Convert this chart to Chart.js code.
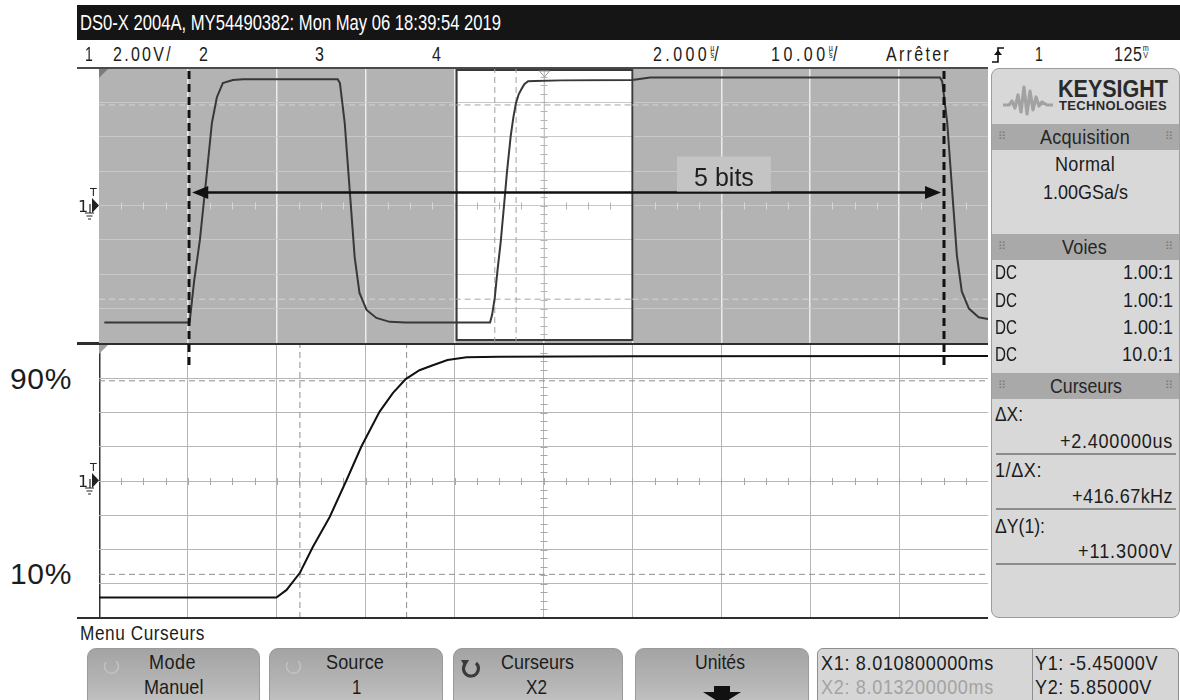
<!DOCTYPE html>
<html><head><meta charset="utf-8">
<script src="https://cdn.jsdelivr.net/npm/chart.js@4.4.1/dist/chart.umd.min.js"></script>
<style>
html,body{margin:0;padding:0;background:#fff;width:1180px;height:700px;overflow:hidden;}
body{position:relative;font-family:"Liberation Sans",Arial,sans-serif;color:#1c1c1c;}
.a{position:absolute;white-space:nowrap;}
.t{position:absolute;white-space:nowrap;transform-origin:0 50%;z-index:6;color:#1c1c1c;}
.stk{display:inline-block;font-size:9px;line-height:7px;vertical-align:top;margin-top:1px;text-align:center;letter-spacing:0 !important;}
.stk span{display:block;}
.pan{position:absolute;left:991px;top:68px;width:187px;height:548px;background:#d8d8d8;border:1px solid #9c9c9c;border-radius:8px;overflow:hidden;}
.bar{position:absolute;left:0;width:187px;height:26px;background:#a9a9a9;}
.grip{position:absolute;top:7px;font-family:"DejaVu Sans";font-size:11px;line-height:11px;color:#7a7a7a;}
.sep{position:absolute;left:4px;width:180px;height:2px;background:#8c8c8c;}
.btn{position:absolute;top:648px;height:60px;border-radius:9px;border:1px solid #9a9a9a;background:linear-gradient(#a4a4a4,#b4b4b4 55%,#c6c6c6);}
</style></head>
<body>
<!-- title bar -->
<div class="a" style="left:77px;top:5px;width:1103px;height:35px;background:#151515;"></div>
<svg class="a" style="left:991px;top:45px;z-index:6" width="16" height="20"><path d="M1 17 H7 V3 H13" fill="none" stroke="#111" stroke-width="1.6"/><path d="M3 10 L7 5 L11 10 Z" fill="#111"/></svg>

<!-- channel markers -->
<svg class="a" style="left:76px;top:180px;z-index:5" width="24" height="44">
 <text x="14" y="16" font-family="DejaVu Sans" font-size="11" fill="#222">T</text>
 <text x="2" y="32" font-family="DejaVu Sans" font-size="16" fill="#222">1</text>
 <path d="M16 18 L23 25.5 L16 33 Z" fill="#222"/>
 <path d="M14 24 V33 M9 33 H18 M10.5 36 H16.5 M12 39 H15" stroke="#222" stroke-width="1.2" fill="none"/>
</svg>
<svg class="a" style="left:76px;top:455px;z-index:5" width="24" height="44">
 <text x="14" y="16" font-family="DejaVu Sans" font-size="11" fill="#222">T</text>
 <text x="2" y="32" font-family="DejaVu Sans" font-size="16" fill="#222">1</text>
 <path d="M16 18 L23 25.5 L16 33 Z" fill="#222"/>
 <path d="M14 24 V33 M9 33 H18 M10.5 36 H16.5 M12 39 H15" stroke="#222" stroke-width="1.2" fill="none"/>
</svg>

<!-- charts -->
<canvas id="cBottom" class="a" style="left:99px;top:344px;z-index:1" width="889" height="274"></canvas>
<canvas id="cTop" class="a" style="left:99px;top:68px;z-index:2" width="889" height="302"></canvas>

<!-- frame lines -->
<div class="a" style="left:77px;top:67px;width:911px;height:2px;background:#4a4a4a;z-index:3"></div>
<div class="a" style="left:77px;top:342px;width:911px;height:3px;background:#2e2e2e;z-index:1"></div>
<div class="a" style="left:77px;top:617px;width:911px;height:2px;background:#2e2e2e;z-index:3"></div>

<!-- right panel -->
<div class="pan">
  <svg style="position:absolute;left:9px;top:8px" width="54" height="40"><path d="M2 28 L8 28 L11 24 L14 31 L17 18 L20 35 L23 10 L26 37 L29 14 L32 33 L35 20 L38 29 L41 25 L46 28 L52 28" fill="none" stroke="#a2a2a2" stroke-width="3.2" stroke-linejoin="round"/></svg>
  <div class="bar" style="top:55px;"><span class="grip" style="left:6px;">⠿</span><span class="grip" style="right:6px;">⠿</span></div>
  <div class="bar" style="top:165px;"><span class="grip" style="left:6px;">⠿</span><span class="grip" style="right:6px;">⠿</span></div>
  <div class="bar" style="top:304px;"><span class="grip" style="left:6px;">⠿</span><span class="grip" style="right:6px;">⠿</span></div>
  <div class="sep" style="top:384px;"></div>
  <div class="sep" style="top:439px;"></div>
  <div class="sep" style="top:494px;"></div>
</div>

<!-- bottom menu -->
<div class="btn" style="left:87px;width:171px;"><svg style="position:absolute;left:12px;top:6px" width="22" height="22"><path d="M16 6 A7 7 0 1 1 6 7" fill="none" stroke="#c2c2c2" stroke-width="1.5"/></svg></div>
<div class="btn" style="left:269px;width:172px;"><svg style="position:absolute;left:12px;top:6px" width="22" height="22"><path d="M16 6 A7 7 0 1 1 6 7" fill="none" stroke="#c2c2c2" stroke-width="1.5"/></svg></div>
<div class="btn" style="left:453px;width:168px;"><svg style="position:absolute;left:5px;top:7px" width="24" height="24"><path d="M17 7 A7.5 7.5 0 1 1 6 8" fill="none" stroke="#3a3a3a" stroke-width="3.2"/><path d="M2 4 L10 4 L6 11 Z" fill="#3a3a3a"/></svg></div>
<div class="btn" style="left:635px;width:172px;"><svg style="position:absolute;left:65px;top:36px" width="42" height="20"><path d="M13 1 H29 V7 H40 L21 19 L2 7 H13 Z" fill="#111"/></svg></div>
<div class="a" style="left:817px;top:648px;width:360px;height:60px;background:#d6d6d6;border:1px solid #8e8e8e;border-radius:6px;"></div>
<div class="a" style="left:1032px;top:648px;width:1px;height:54px;background:#8e8e8e;"></div>

<script>
// ---- data ----
// channel 1 waveform: time in µs from left edge of main window, voltage in V
const timeUs = [0.6, 10.1, 10.2, 10.7, 11.35, 12.13, 12.7, 13.26, 13.93, 15.06, 16.2, 26.85, 27.1, 27.64, 28.2, 28.76, 29.3, 30.1, 31.2, 32.7, 34.5,
  43.99, 44.22, 44.52, 44.81, 45.19, 45.57, 45.90, 46.31, 46.61, 46.90, 47.21, 47.51, 47.84, 48.27, 49.01, 52.0, 60.0, 62.0,
  94.6, 94.85, 95.4, 95.95, 96.5, 97.05, 97.85, 98.95, 100.0];
const voltsCh1 = [-6.8, -6.8, -6.77, -4.4, -2.0, 1.89, 4.8, 6.3, 7.12, 7.3, 7.35, 7.35, 7.12, 4.8, 0.9, -3.0, -5.09, -6.08, -6.54, -6.77, -6.8,
  -6.8, -6.36, -5.36, -3.85, -2.10, 0.06, 2.0, 4.04, 5.13, 5.95, 6.47, 6.76, 7.06, 7.23, 7.25, 7.28, 7.3, 7.45,
  7.45, 7.22, 4.9, 1.0, -2.9, -5.0, -6.0, -6.5, -6.6];
const cursorTimesUs = [44.52, 46.92];      // X1, X2
const cursorVolts = [-5.45, 5.85];         // Y1, Y2
const mainRangeUs = [0, 100];              // 10 µs/div
const zoomRangeUs = [40, 60];              // 2 µs/div
const voltRange = [-8, 8];                 // 2 V/div
const markerTimesUs = [10.15, 95.05];      // "5 bits" annotation ends
const arrowLevelV = 0.78;
const labelText = '5 bits';
const labelTimeUs = 70.3;

// ---- text (screen read-outs) ----
const US = '<span class="stk"><span>µ</span><span>s</span></span>';
const MV = '<span class="stk"><span>m</span><span>V</span></span>';
// x: left edge, cy: vertical centre of capitals, fs: font size, w: target width
function T(html, x, cy, fs, w, o = {}) {
  const d = document.createElement('div');
  d.className = 't'; d.innerHTML = html;
  d.style.left = x + 'px'; d.style.top = (cy - 0.49 * fs) + 'px';
  d.style.fontSize = fs + 'px'; d.style.lineHeight = fs + 'px';
  if (o.color) d.style.color = o.color;
  if (o.weight) d.style.fontWeight = o.weight;
  document.body.appendChild(d);
  const cond = o.cond || 0.86;
  const nw = d.getBoundingClientRect().width;
  if (!w) { d.style.transform = 'scaleX(' + cond + ')'; return; }
  if (nw * cond >= w) {
    d.style.transform = 'scaleX(' + (w / nw).toFixed(4) + ')';
  } else {
    const n = d.textContent.length;
    d.style.letterSpacing = ((w / cond - nw) / n).toFixed(3) + 'px';
    d.style.transform = 'scaleX(' + cond + ')';
  }
}
T('DS0-X 2004A, MY54490382: Mon May 06 18:39:54 2019', 80, 23, 22, 421, {color: '#fff'});
T('1', 85, 53.5, 20, 0, {cond: 0.7});
T('2.00V/', 113, 53.5, 20, 60, {cond: 0.8});
T('2', 199, 53.5, 20, 0, {cond: 0.8});
T('3', 315, 53.5, 20, 0, {cond: 0.8});
T('4', 432, 53.5, 20, 0, {cond: 0.8});
T('2.000' + US + '/', 653, 53.5, 20, 76, {cond: 0.8});
T('10.00' + US + '/', 771, 53.5, 20, 77, {cond: 0.8});
T('Arrêter', 886, 53.5, 20, 65, {cond: 0.8});
T('1', 1035, 53.5, 20, 0, {cond: 0.7});
T('125' + MV, 1114, 53.5, 20, 36, {cond: 0.8});
T('90%', 10, 379, 30, 62, {cond: 1});
T('10%', 10, 574, 30, 62, {cond: 1});
// right panel
T('KEYSIGHT', 1058, 89, 24, 110, {weight: 'bold', color: '#2a2a2a', cond: 1});
T('TECHNOLOGIES', 1059, 105.5, 13, 108, {weight: 'bold', color: '#2a2a2a', cond: 1});
T('Acquisition', 1040, 136, 21, 90, {color: '#262626'});
T('Normal', 1055, 163.5, 21, 60);
T('1.00GSa/s', 1043, 191.5, 21, 85);
T('Voies', 1062, 246.5, 21, 45, {color: '#262626'});
[271, 299, 326.5, 353].forEach((cy, i) => { T('DC', 995, cy, 21, 22); T(i === 3 ? '10.0:1' : '1.00:1', i === 3 ? 1122 : 1123, cy, 21, i === 3 ? 51 : 50); });
T('Curseurs', 1050, 385, 21, 72, {color: '#262626'});
T('ΔX:', 995, 413, 21, 28);
T('+2.400000us', 1060, 440, 21, 113);
T('1/ΔX:', 995, 469, 21, 47);
T('+416.67kHz', 1072, 495, 21, 101);
T('ΔY(1):', 995, 525, 21, 50);
T('+11.3000V', 1078, 550, 21, 95);
// bottom menu
T('Menu Curseurs', 80, 632.5, 20, 125);
T('Mode', 149, 661, 21, 47);
T('Manuel', 143.5, 686.5, 21, 59.5);
T('Source', 326, 661, 21, 58);
T('1', 352, 686.5, 21, 0, {cond: 0.8});
T('Curseurs', 501, 661, 21, 73);
T('X2', 526, 686.5, 21, 21);
T('Unités', 695, 661, 21, 50);
T('X1: 8.010800000ms', 821, 662, 21, 173);
T('X2: 8.013200000ms', 821, 686, 21, 173, {color: '#a3a3a3'});
T('Y1: -5.45000V', 1035, 662, 21, 123);
T('Y2: 5.85000V', 1035, 686, 21, 117);

// ---- charts ----
const wave = timeUs.map((t, i) => ({x: t, y: voltsCh1[i]}));
const hLine = (v, xs) => xs.map(t => ({x: t, y: v}));
const vLine = t => [{x: t, y: voltRange[0]}, {x: t, y: voltRange[1]}];

function minorTicks(chart, xStep, yStep, colorFn) {
  const {ctx, scales: {x, y}} = chart;
  const y0 = y.getPixelForValue(0), xc = x.getPixelForValue((x.min + x.max) / 2);
  ctx.save(); ctx.lineWidth = 1;
  for (let v = x.min + xStep; v < x.max; v += xStep) {
    const px = Math.round(x.getPixelForValue(v)) + 0.5;
    ctx.strokeStyle = colorFn(px); ctx.beginPath(); ctx.moveTo(px, y0 - 3); ctx.lineTo(px, y0 + 4); ctx.stroke();
  }
  for (let v = y.min + yStep; v < y.max; v += yStep) {
    const py = Math.round(y.getPixelForValue(v)) + 0.5;
    ctx.strokeStyle = colorFn(xc); ctx.beginPath(); ctx.moveTo(xc - 3, py); ctx.lineTo(xc + 4, py); ctx.stroke();
  }
  ctx.restore();
}
function cornerTri(chart, color) {
  const {ctx, chartArea: a} = chart;
  ctx.save(); ctx.fillStyle = color; ctx.beginPath();
  ctx.moveTo(a.left, a.top); ctx.lineTo(a.left + 10, a.top); ctx.lineTo(a.left, a.top + 10); ctx.closePath(); ctx.fill(); ctx.restore();
}

const topDecor = {
  id: 'topDecor',
  beforeDraw(chart) {
    const {ctx, chartArea: a, scales: {x}} = chart;
    ctx.save();
    ctx.fillStyle = '#b3b3b3';
    ctx.fillRect(a.left, a.top, a.right - a.left, a.bottom - a.top);
    const x0 = x.getPixelForValue(zoomRangeUs[0]), x1 = x.getPixelForValue(zoomRangeUs[1]);
    ctx.fillStyle = '#ffffff';
    ctx.fillRect(x0 + 2, a.top + 2, x1 - x0 - 2, a.bottom - a.top - 5);
    ctx.restore();
  },
  beforeDatasetsDraw(chart) {
    const {ctx, chartArea: a, scales: {x}} = chart;
    const x0 = x.getPixelForValue(zoomRangeUs[0]), x1 = x.getPixelForValue(zoomRangeUs[1]);
    const inBox = px => px > x0 && px < x1;
    ctx.save();
    const xc = Math.round(x.getPixelForValue((x.min + x.max) / 2)) + 0.5;
    ctx.strokeStyle = '#c2c2c2'; ctx.lineWidth = 1;
    ctx.beginPath(); ctx.moveTo(xc, a.top + 2); ctx.lineTo(xc, a.bottom - 3); ctx.stroke();
    ctx.restore();
    minorTicks(chart, 2.5, 0.5, px => inBox(px) ? '#b4b4b4' : '#d6d6d6');
    ctx.save();
    ctx.strokeStyle = '#3a3a3a'; ctx.lineWidth = 2;
    ctx.strokeRect(x0 + 2, a.top + 2, x1 - x0 - 2, a.bottom - a.top - 5);
    ctx.strokeStyle = '#9a9a9a'; ctx.lineWidth = 1;
    ctx.beginPath(); ctx.moveTo(xc - 5, a.top + 3); ctx.lineTo(xc + 5, a.top + 3); ctx.lineTo(xc, a.top + 9); ctx.closePath(); ctx.stroke();
    ctx.restore();
    cornerTri(chart, '#7c7c7c');
  },
  afterDraw(chart) {
    const {ctx, chartArea: a, scales: {x, y}} = chart;
    ctx.save();
    ctx.strokeStyle = '#111'; ctx.lineWidth = 3; ctx.setLineDash([8, 5]);
    markerTimesUs.forEach(t => {
      const px = Math.round(x.getPixelForValue(t));
      ctx.beginPath(); ctx.moveTo(px, a.top + 3); ctx.lineTo(px, a.bottom + 22); ctx.stroke();
    });
    ctx.setLineDash([]);
    const ay = Math.round(y.getPixelForValue(arrowLevelV)) + 0.5;
    const xa = x.getPixelForValue(markerTimesUs[0]) + 3, xb = x.getPixelForValue(markerTimesUs[1]) - 3;
    ctx.fillStyle = '#111'; ctx.lineWidth = 2.5;
    ctx.beginPath(); ctx.moveTo(xa + 12, ay); ctx.lineTo(xb - 12, ay); ctx.stroke();
    ctx.beginPath(); ctx.moveTo(xa, ay); ctx.lineTo(xa + 16, ay - 6.5); ctx.lineTo(xa + 16, ay + 6.5); ctx.closePath(); ctx.fill();
    ctx.beginPath(); ctx.moveTo(xb, ay); ctx.lineTo(xb - 16, ay - 6.5); ctx.lineTo(xb - 16, ay + 6.5); ctx.closePath(); ctx.fill();
    const lx = x.getPixelForValue(labelTimeUs);
    ctx.fillStyle = '#c4c4c4';
    ctx.fillRect(lx - 47, ay - 36, 94, 35);
    ctx.fillStyle = '#1e1e1e';
    ctx.font = '25px "Liberation Sans", Arial, sans-serif';
    ctx.textAlign = 'center'; ctx.textBaseline = 'alphabetic';
    ctx.fillText(labelText, lx, ay - 7);
    ctx.restore();
  }
};

const bottomDecor = {
  id: 'bottomDecor',
  beforeDraw(chart) {
    const {ctx, chartArea: a} = chart;
    ctx.save(); ctx.fillStyle = '#fff'; ctx.fillRect(a.left, a.top, a.right - a.left, a.bottom - a.top); ctx.restore();
  },
  beforeDatasetsDraw(chart) {
    minorTicks(chart, 0.5, 0.5, () => '#a8a8a8');
    cornerTri(chart, '#a0a0a0');
  }
};

const common = (xr, gridX, gridY, padBottom) => ({
  animation: false, responsive: false, events: [],
  layout: {padding: {left: 0, right: 0, top: 0, bottom: padBottom}},
  plugins: {legend: {display: false}, tooltip: {enabled: false}},
  scales: {
    x: {type: 'linear', min: xr[0], max: xr[1], ticks: {display: false, stepSize: (xr[1] - xr[0]) / 10},
        grid: {drawTicks: false, color: gridX.color, lineWidth: gridX.width}, border: {display: false}},
    y: {type: 'linear', min: voltRange[0], max: voltRange[1], ticks: {display: false, stepSize: 2},
        grid: {drawTicks: false, color: gridY, lineWidth: 1}, border: {display: false}}
  }
});

const edgeV = v => v === voltRange[0] || v === voltRange[1];

new Chart(document.getElementById('cTop'), {
  type: 'line',
  data: {datasets: [
    {data: wave, borderColor: '#383838', borderWidth: 2, pointRadius: 0, tension: 0, order: 0},
    ...cursorVolts.map(v => ({data: hLine(v, [mainRangeUs[0], zoomRangeUs[0], zoomRangeUs[1], mainRangeUs[1]]),
      borderWidth: 1, borderDash: [6, 4], pointRadius: 0, order: 1,
      segment: {borderColor: c => (c.p0.parsed.x >= zoomRangeUs[0] && c.p1.parsed.x <= zoomRangeUs[1]) ? '#a6a6a6' : '#d4d4d4'}})),
    ...cursorTimesUs.map(t => ({data: vLine(t), borderColor: '#a0a0a0', borderWidth: 1, borderDash: [6, 4], pointRadius: 0, order: 1}))
  ]},
  options: common(mainRangeUs,
    {color: c => (c.tick.value === mainRangeUs[0] || c.tick.value === mainRangeUs[1]) ? 'rgba(0,0,0,0)' : '#ececec', width: 1.5},
    c => edgeV(c.tick.value) ? 'rgba(0,0,0,0)' : '#c8c8c8', 27),
  plugins: [topDecor]
});

new Chart(document.getElementById('cBottom'), {
  type: 'line',
  data: {datasets: [
    {data: wave, borderColor: '#111', borderWidth: 2, pointRadius: 0, tension: 0, order: 0},
    ...cursorVolts.map(v => ({data: hLine(v, zoomRangeUs), borderColor: '#8e8e8e', borderWidth: 1, borderDash: [6, 4], pointRadius: 0, order: 1})),
    ...cursorTimesUs.map(t => ({data: vLine(t), borderColor: '#8e8e8e', borderWidth: 1, borderDash: [6, 4], pointRadius: 0, order: 1}))
  ]},
  options: common(zoomRangeUs,
    {color: c => c.tick.value === zoomRangeUs[0] ? '#333' : (c.tick.value === zoomRangeUs[1] ? '#555' : '#b6b6b6'),
     width: c => c.tick.value === zoomRangeUs[0] ? 2.5 : 1},
    c => edgeV(c.tick.value) ? 'rgba(0,0,0,0)' : '#b6b6b6', 0),
  plugins: [bottomDecor]
});
</script>
</body></html>
